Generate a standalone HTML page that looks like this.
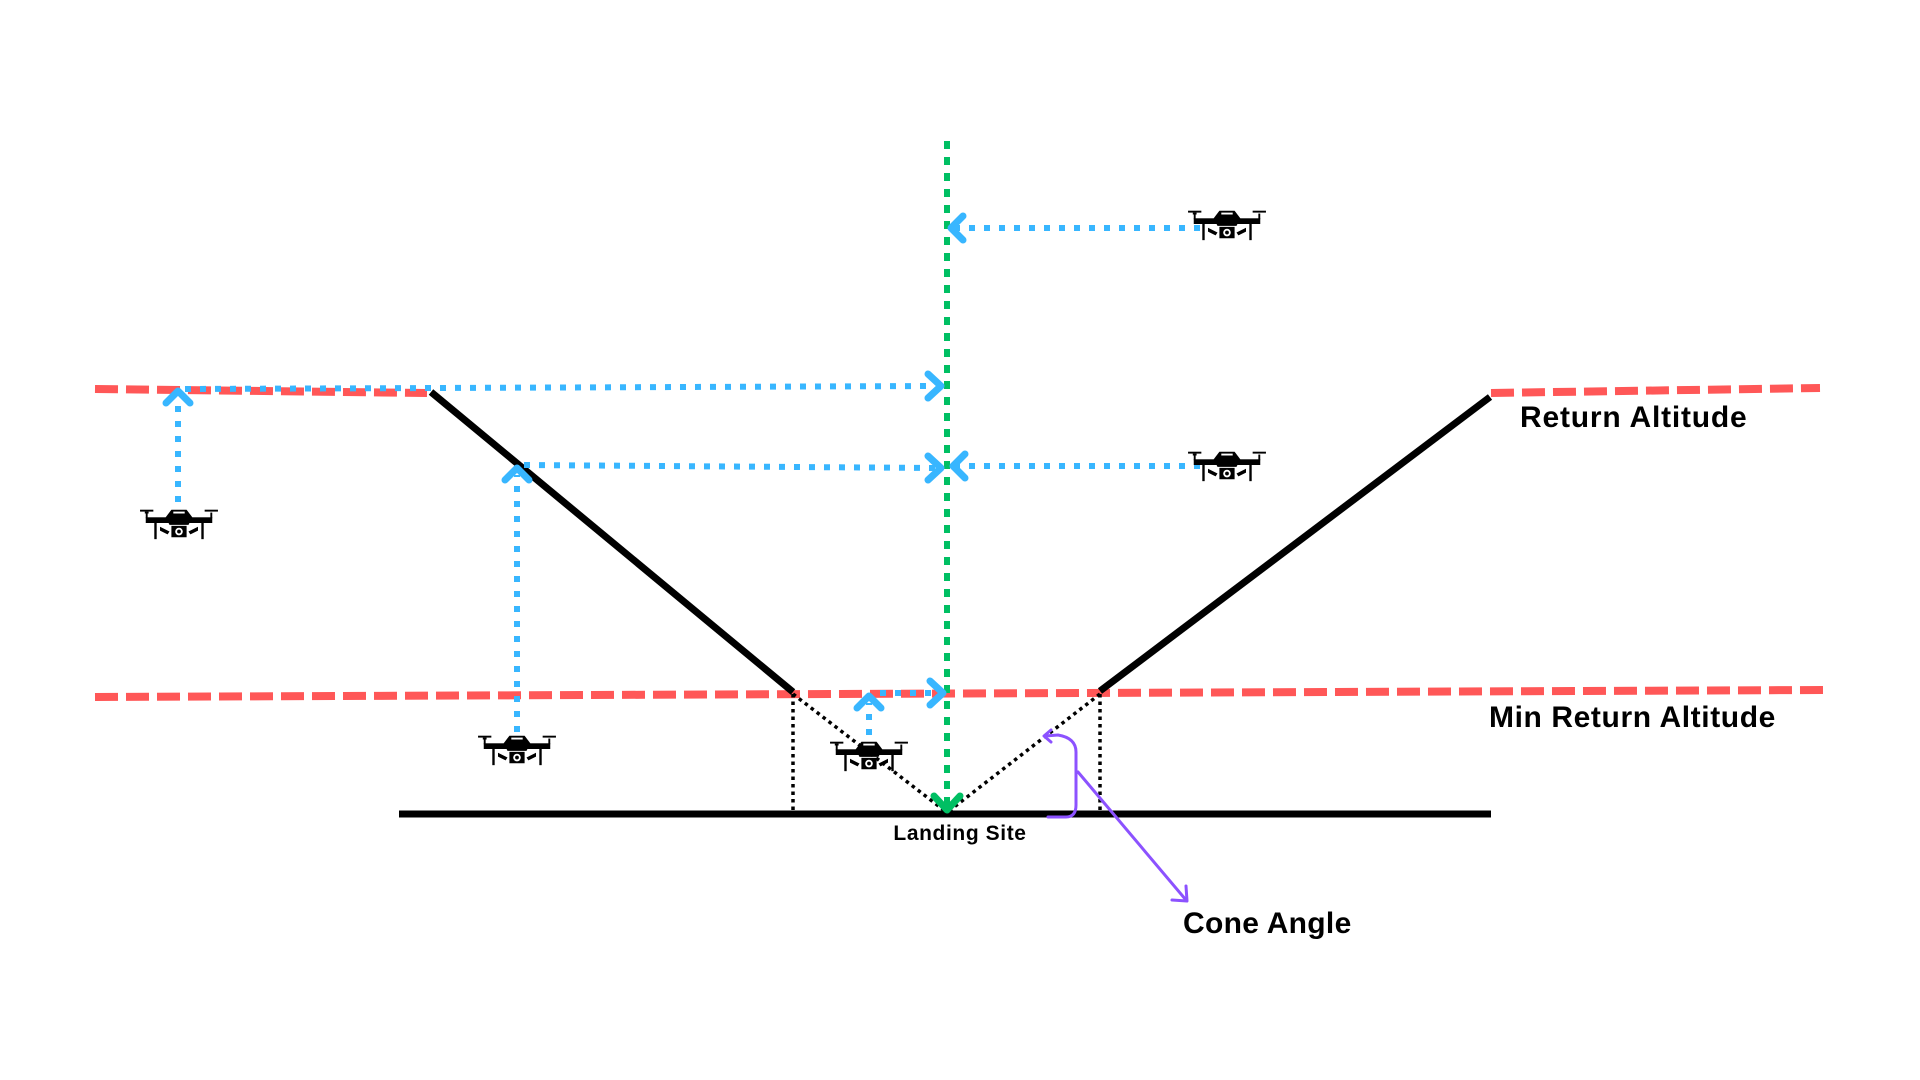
<!DOCTYPE html>
<html><head><meta charset="utf-8"><style>
html,body{margin:0;padding:0;background:#fff}
svg{display:block}
text{font-family:"Liberation Sans",sans-serif;font-weight:bold;fill:#000}
</style></head><body>
<svg width="1920" height="1080" viewBox="0 0 1920 1080" xmlns="http://www.w3.org/2000/svg">
<defs>
<g id="drone">
  <rect x="-36" y="-12" width="4" height="2" fill="#000"/>
  <rect x="-41" y="-14" width="14" height="2" fill="#000"/>
  <rect x="27" y="-14" width="14" height="2" fill="#000"/>
  <rect x="-35" y="-11" width="2" height="6" fill="#000"/>
  <rect x="33" y="-11" width="2" height="6" fill="#000"/>
  <rect x="-35" y="-6" width="70" height="6" fill="#000"/>
  <path d="M-14,-6 L-8,-14 L8,-14 L14,-6 L10,2 L-10,2 Z" fill="#000"/>
  <rect x="-6" y="-12" width="12" height="2" fill="#fff"/>
  <rect x="-26" y="0" width="2.5" height="17" fill="#000"/>
  <rect x="23.5" y="0" width="2.5" height="17" fill="#000"/>
  <path d="M-20,4 L-10,9 L-12,12 L-20,8 Z M20,4 L10,9 L12,12 L20,8 Z" fill="#000"/>
  <rect x="-8" y="3" width="16" height="12" fill="#000"/>
  <circle cx="0" cy="9" r="4" fill="#fff"/>
  <circle cx="0" cy="9" r="2" fill="#000"/>
</g>
</defs>

<g stroke="#ff5757" stroke-width="8" stroke-dasharray="23 8" fill="none">
  <line x1="95" y1="389" x2="427" y2="393"/>
  <line x1="1491" y1="393" x2="1820" y2="388"/>
  <line x1="95" y1="697" x2="1824" y2="690"/>
</g>

<g stroke="#000" stroke-width="7" fill="none">
  <polyline points="431,392 793,692"/>
  <polyline points="1100,691 1490,397"/>
  <line x1="399" y1="814" x2="1491" y2="814"/>
</g>

<g stroke="#000" stroke-width="3.5" stroke-dasharray="3.5 4" fill="none">
  <line x1="793" y1="694" x2="793" y2="810"/>
  <line x1="1100" y1="694" x2="1100" y2="810"/>
  <line x1="793" y1="694" x2="945" y2="811"/>
  <line x1="949" y1="811" x2="1100" y2="694"/>
</g>

<line x1="947" y1="141" x2="947" y2="805" stroke="#00bf63" stroke-width="6" stroke-dasharray="8 8"/>
<polyline points="934,796 947,810 960,796" stroke="#00bf63" stroke-width="7" fill="none" stroke-linecap="round" stroke-linejoin="round"/>

<g stroke="#38b6ff" stroke-width="6" stroke-dasharray="6 9" fill="none">
  <line x1="1200" y1="228" x2="955" y2="228"/>
  <line x1="185" y1="389" x2="935" y2="386"/>
  <line x1="178" y1="502" x2="178" y2="398"/>
  <line x1="524" y1="465" x2="935" y2="468"/>
  <line x1="1200" y1="466" x2="958" y2="466"/>
  <line x1="517" y1="732" x2="517" y2="475"/>
  <line x1="869" y1="735" x2="869" y2="703"/>
  <line x1="880" y1="693" x2="940" y2="693"/>
</g>
<g stroke="#38b6ff" stroke-width="7" fill="none" stroke-linecap="round" stroke-linejoin="round">
  <polyline points="963,216 951,228 963,240"/>
  <polyline points="928,374 941,386 928,398"/>
  <polyline points="166,403 178,391 190,403"/>
  <polyline points="928,456 941,468 928,480"/>
  <polyline points="965,454 953,466 965,478"/>
  <polyline points="505,480 517,468 529,480"/>
  <polyline points="857,708 869,696 881,708"/>
  <polyline points="930,681 943,693 930,705"/>
</g>

<g stroke="#8c52ff" stroke-width="3" fill="none" stroke-linecap="round" stroke-linejoin="round">
  <path d="M1048,817 L1066,817 Q1076,817 1076,805 L1076,752 Q1076,738 1058,735 L1045,736"/>
  <polyline points="1051,730 1044,736 1051,742"/>
  <line x1="1078" y1="772" x2="1186" y2="900"/>
  <polyline points="1172,900 1187,901 1186,886"/>
</g>

<use href="#drone" transform="translate(1227,224) scale(0.95)"/>
<use href="#drone" transform="translate(1227,465) scale(0.95)"/>
<use href="#drone" transform="translate(179,523) scale(0.95)"/>
<use href="#drone" transform="translate(517,749) scale(0.95)"/>
<use href="#drone" transform="translate(869,755) scale(0.95)"/>

<text x="1520" y="427" font-size="30" letter-spacing="0.8">Return Altitude</text>
<text x="1489" y="727" font-size="30" letter-spacing="0.6">Min Return Altitude</text>
<text x="1183" y="933" font-size="30" letter-spacing="0.3">Cone Angle</text>
<text x="960" y="840" font-size="21" letter-spacing="0.6" text-anchor="middle">Landing Site</text>
</svg>
</body></html>
